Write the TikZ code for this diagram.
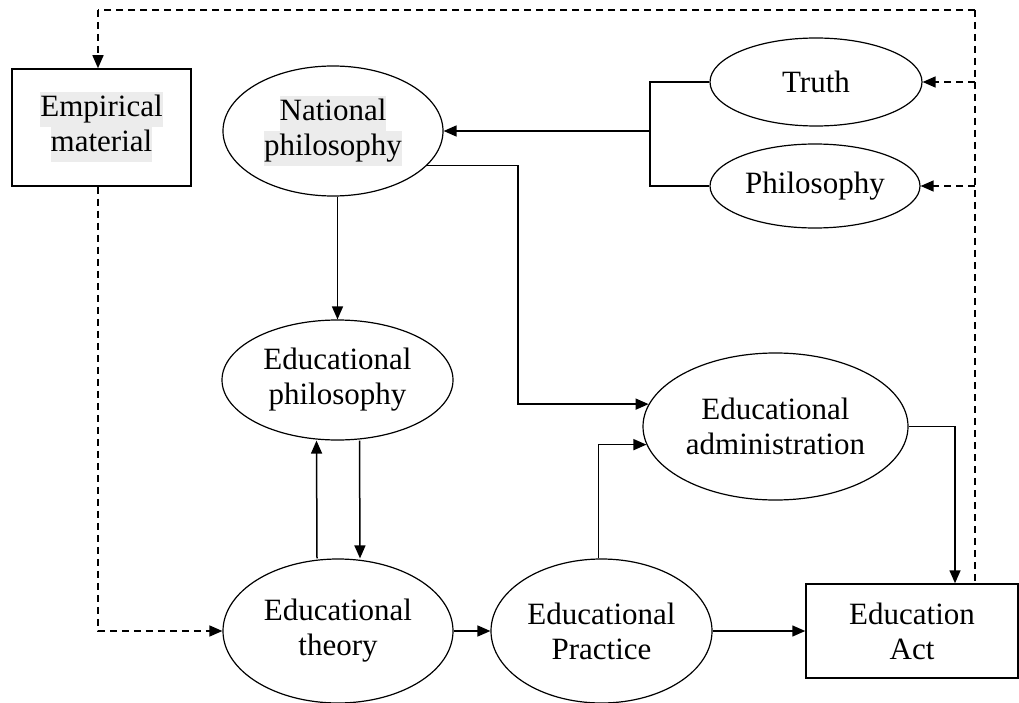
\documentclass[tikz,border=0pt]{standalone}
\usepackage{fontspec}
\setmainfont{Liberation Serif}
\usetikzlibrary{shapes.geometric,arrows.meta}
\definecolor{hlgray}{RGB}{236,236,236}
\newcommand{\hlt}[1]{{\setlength{\fboxsep}{0pt}\colorbox{hlgray}{\strut #1}}}
\begin{document}
\begin{tikzpicture}[x=1pt,y=-1pt,
  every node/.style={font=\fontsize{31}{35}\selectfont, align=center, inner sep=0pt},
  ell/.style={draw, ellipse, line width=1.2pt},
  rectbox/.style={draw, rectangle, line width=1.5pt},
  arr/.style={-{Triangle[length=13pt,width=11pt]}},
  conn/.style={line width=1.5pt},
  dsh/.style={line width=1.4pt, dash pattern=on 7pt off 5pt}]
\useasboundingbox (0,0) rectangle (1019,703);

% nodes
\node[rectbox, minimum width=179pt, minimum height=117pt] (emp) at (101.5,127.5) {\hlt{Empirical}\\\hlt{material}};
\node[ell, minimum width=220pt, minimum height=130pt] (natphil) at (333,131) {\hlt{National}\\\hlt{philosophy}};
\node[ell, minimum width=212pt, minimum height=88pt] (truth) at (816,82) {Truth};
\node[ell, minimum width=210pt, minimum height=84pt] (phil) at (815,186) {Philosophy};
\node[ell, minimum width=231pt, minimum height=120pt] (edphil) at (337.5,380) {Educational\\philosophy};
\node[ell, minimum width=265pt, minimum height=147pt] (admin) at (775.5,426.5) {Educational\\administration};
\node[ell, minimum width=230pt, minimum height=144pt] (theory) at (338,631) {Educational\\theory};
\node[ell, minimum width=221pt, minimum height=144pt] (practice) at (601.5,631) {Educational\\Practice};
\node[rectbox, minimum width=212pt, minimum height=94pt] (act) at (912,631) {Education\\Act};

% helper coordinates
\coordinate (tl) at (98,10);
\coordinate (tr) at (975,10);
\coordinate (br) at (650,0);
\coordinate (k1) at (518,0);
\coordinate (k2) at (955,0);

% dashed feedback loop
\draw[dsh] (tr) -- (tl);
\draw[dsh,arr] (tl) -- (tl |- emp.north);
\draw[dsh,arr] (tl |- emp.south) |- (theory.west);
\draw[dsh] (tr) -- (tr |- act.north);
\draw[dsh,arr] (tr |- truth.east) -- (truth.east);
\draw[dsh,arr] (tr |- phil.east) -- (phil.east);

% bracket from Truth and Philosophy to National philosophy
\draw[conn] (truth.west) -| (br |- natphil.east) |- (phil.west);
\draw[conn,arr] (br |- natphil.east) -- (natphil.east);

% solid connectors
\draw[conn,arr] (edphil.north |- natphil.south) -- (edphil.north);
\draw[conn,arr] ([xshift=-21pt]theory.north) -- ([xshift=-21pt]edphil.south);
\draw[conn,arr] ([xshift=22pt]edphil.south) -- ([xshift=22pt]theory.north);
\draw[conn,arr] (theory.east) -- (practice.west);
\draw[conn,arr] (practice.east) -- (act.west);
\draw[conn,arr] (natphil.-20.6) -| (k1 |- admin.170.1) -- (admin.170.1);
\draw[conn,arr] ([xshift=-3pt]practice.north) |- (admin.188);
\draw[conn,arr] (admin.east) -| (k2 |- act.north);
\end{tikzpicture}
\end{document}
